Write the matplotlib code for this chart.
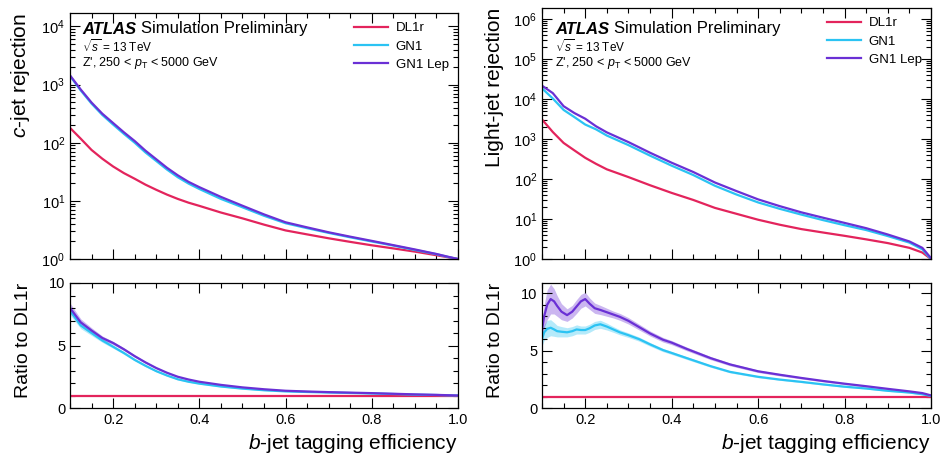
import matplotlib
matplotlib.use("Agg")
import matplotlib.pyplot as plt
from matplotlib.ticker import MultipleLocator, LogLocator, NullFormatter
import numpy as np

plt.rcParams["font.family"] = ["Liberation Sans", "DejaVu Sans"]
plt.rcParams["mathtext.fontset"] = "custom"
plt.rcParams["mathtext.rm"] = "Liberation Sans"
plt.rcParams["mathtext.it"] = "Liberation Sans:italic"
plt.rcParams["mathtext.bf"] = "Liberation Sans:bold"

# ---- data ----
eff = [0.1, 0.125, 0.15, 0.175, 0.2, 0.225, 0.25, 0.275, 0.3, 0.325, 0.35, 0.375,
       0.4, 0.45, 0.5, 0.55, 0.6, 0.65, 0.7, 0.75, 0.8, 0.85, 0.9, 0.95, 0.98, 1.0]

# c-jet rejection (left)
c_dl1r = [180, 117, 75, 53, 39, 30, 24, 19, 15.5, 12.8, 10.8, 9.3,
          8.2, 6.3, 5.0, 3.9, 3.1, 2.65, 2.27, 1.97, 1.72, 1.52, 1.34, 1.16, 1.06, 1.0]
c_gn1 = [1404, 790, 470, 300, 205, 142, 100, 68, 48.5, 34.5, 25.5, 19.8,
         16.0, 10.8, 7.75, 5.54, 4.12, 3.39, 2.81, 2.36, 2.0, 1.70, 1.43, 1.21, 1.07, 1.0]
c_gn1lep = [1440, 820, 490, 315, 218, 151, 107, 73, 52, 37, 27.5, 21.2,
            17.2, 11.7, 8.25, 5.85, 4.28, 3.5, 2.88, 2.42, 2.05, 1.73, 1.46, 1.22, 1.08, 1.0]

# c-jet ratio to DL1r (left)
c_ratio_gn1 = [7.8, 6.6, 6.0, 5.4, 4.9, 4.4, 3.85, 3.38, 2.95, 2.6, 2.3, 2.1,
               1.95, 1.72, 1.55, 1.42, 1.33, 1.28, 1.24, 1.2, 1.16, 1.12, 1.07, 1.04, 1.01, 1.0]
c_ratio_gn1lep = [8.0, 6.85, 6.2, 5.6, 5.2, 4.7, 4.15, 3.65, 3.2, 2.82, 2.5, 2.28,
                  2.1, 1.85, 1.65, 1.5, 1.38, 1.32, 1.27, 1.23, 1.19, 1.14, 1.09, 1.05, 1.02, 1.0]
c_err_gn1 = [0.35, 0.25, 0.2, 0.15, 0.12, 0.1, 0.08, 0.07, 0.06, 0.05, 0.05, 0.04,
             0.04, 0.04, 0.03, 0.03, 0.03, 0.03, 0.02, 0.02, 0.02, 0.02, 0.02, 0.02, 0.02, 0.02]
c_err_gn1lep = [0.4, 0.28, 0.22, 0.16, 0.13, 0.11, 0.09, 0.08, 0.07, 0.06, 0.05, 0.05,
                0.04, 0.04, 0.03, 0.03, 0.03, 0.03, 0.02, 0.02, 0.02, 0.02, 0.02, 0.02, 0.02, 0.02]

# light-jet rejection (right)
eff_l = [0.1, 0.125, 0.15, 0.175, 0.2, 0.225, 0.25, 0.3, 0.35, 0.4, 0.45, 0.5,
         0.55, 0.6, 0.65, 0.7, 0.75, 0.8, 0.85, 0.9, 0.95, 0.98, 1.0]
l_dl1r = [3100, 1500, 800, 520, 340, 240, 175, 112, 70, 45, 30, 19,
          13.5, 9.6, 7.2, 5.6, 4.6, 3.8, 3.1, 2.5, 1.9, 1.45, 1.0]
l_gn1 = [18600, 10350, 5360, 3540, 2310, 1750, 1225, 706, 385, 216, 126, 68,
         41, 26, 18, 12.9, 9.4, 7.0, 5.3, 3.75, 2.57, 1.74, 1.0]
l_gn1lep = [21700, 14100, 6640, 4470, 3230, 2090, 1470, 840, 455, 256, 150, 82,
            50, 31, 21, 14.7, 10.8, 8.0, 5.9, 4.1, 2.75, 1.9, 1.05]

# light-jet ratio to DL1r (right)
eff_r = [0.1, 0.105, 0.112, 0.12, 0.128, 0.135, 0.145, 0.158, 0.17, 0.18, 0.19,
         0.2, 0.21, 0.222, 0.235, 0.25, 0.265, 0.28, 0.3, 0.325, 0.35, 0.38,
         0.4, 0.435, 0.49, 0.535, 0.6, 0.65, 0.7, 0.75, 0.8, 0.85, 0.9, 0.95,
         0.98, 1.0]
l_ratio_gn1lep = [6.8, 8.0, 9.0, 9.5, 9.3, 8.9, 8.4, 8.1, 8.4, 8.85, 9.3,
                  9.5, 9.1, 8.7, 8.55, 8.35, 8.15, 7.95, 7.6, 7.05, 6.5, 5.95,
                  5.7, 5.15, 4.35, 3.8, 3.2, 2.9, 2.62, 2.36, 2.12, 1.9, 1.67, 1.45,
                  1.3, 1.1]
l_err_gn1lep = [0.7, 1.0, 1.3, 1.3, 1.1, 0.9, 0.7, 0.55, 0.55, 0.6, 0.6,
                0.6, 0.5, 0.45, 0.4, 0.35, 0.3, 0.3, 0.28, 0.25, 0.22, 0.2,
                0.18, 0.16, 0.14, 0.12, 0.11, 0.1, 0.09, 0.08, 0.08, 0.07, 0.07, 0.06,
                0.06, 0.06]
l_ratio_gn1 = [6.0, 6.6, 6.9, 7.0, 6.85, 6.7, 6.65, 6.6, 6.7, 6.85, 6.8,
               6.8, 6.95, 7.2, 7.3, 7.1, 6.85, 6.6, 6.35, 6.0, 5.55, 5.05,
               4.8, 4.35, 3.65, 3.15, 2.72, 2.48, 2.28, 2.06, 1.86, 1.7, 1.5, 1.35,
               1.2, 1.05]
l_err_gn1 = [0.6, 0.7, 0.75, 0.7, 0.6, 0.5, 0.45, 0.4, 0.4, 0.4, 0.35,
             0.35, 0.35, 0.35, 0.35, 0.3, 0.25, 0.22, 0.2, 0.18, 0.16, 0.14,
             0.13, 0.12, 0.1, 0.09, 0.08, 0.07, 0.07, 0.06, 0.06, 0.05, 0.05, 0.05,
             0.05, 0.05]

labels = ["DL1r", "GN1", "GN1 Lep"]
colors = ["#e3245c", "#2bc3f3", "#6a30d5"]

W, H = 940, 455
fig = plt.figure(figsize=(W / 100, H / 100), dpi=100)


def box(x0, y0, x1, y1):
    # pixel box -> figure fraction
    return [x0 / W, 1 - y1 / H, (x1 - x0) / W, (y1 - y0) / H]


ax_ct = fig.add_axes(box(70, 13, 458, 259))
ax_cr = fig.add_axes(box(70, 283, 458, 408))
ax_lt = fig.add_axes(box(542, 8, 931, 259))
ax_lr = fig.add_axes(box(542, 283, 931, 408))


def style(ax):
    ax.set_xlim(0.1, 1.0)
    ax.xaxis.set_major_locator(MultipleLocator(0.2))
    ax.xaxis.set_minor_locator(MultipleLocator(0.05))
    ax.tick_params(which="both", direction="in", top=True, right=True,
                   labelsize=10.5, width=0.8)
    ax.tick_params(which="major", length=7)
    ax.tick_params(which="minor", length=3.5)
    for s in ax.spines.values():
        s.set_linewidth(0.9)


def top_panel(ax, e, rej, ylim, ylabel):
    for r, lab, c in zip(rej, labels, colors):
        ax.plot(e, r, color=c, lw=1.6, label=lab)
    ax.set_yscale("log")
    ax.set_ylim(*ylim)
    style(ax)
    ax.yaxis.set_major_locator(LogLocator(base=10, numticks=20))
    ax.yaxis.set_minor_locator(LogLocator(base=10, subs=np.arange(2, 10), numticks=100))
    ax.yaxis.set_minor_formatter(NullFormatter())
    ax.tick_params(labelbottom=False)
    ax.set_ylabel(ylabel, fontsize=15, loc="top")
    ax.yaxis.set_label_coords(-0.097, 1.0)
    ax.legend(loc="upper right", frameon=False, fontsize=9.5, handlelength=2.6,
              handletextpad=0.6, labelspacing=0.45, borderaxespad=0.3)


def ratio_panel(ax, e2, vals, errs, ylim):
    ax.axhline(1.0, color=colors[0], lw=1.6)
    ax.axhspan(0.97, 1.03, color=colors[0], alpha=0.25, lw=0)
    for v, er, c in zip(vals, errs, colors[1:]):
        v = np.array(v)
        er = np.array(er)
        ax.fill_between(e2, v - er, v + er, color=c, alpha=0.35, lw=0)
        ax.plot(e2, v, color=c, lw=1.6)
    ax.set_ylim(*ylim)
    style(ax)
    ax.yaxis.set_major_locator(MultipleLocator(5))
    ax.yaxis.set_minor_locator(MultipleLocator(1))
    ax.set_ylabel("Ratio to DL1r", fontsize=14, loc="top")
    ax.yaxis.set_label_coords(-0.097, 1.0)
    ax.set_xlabel(r"$b$-jet tagging efficiency", fontsize=15, loc="right")


top_panel(ax_ct, eff, [c_dl1r, c_gn1, c_gn1lep], (1, 1.7e4), r"$c$-jet rejection")
top_panel(ax_lt, eff_l, [l_dl1r, l_gn1, l_gn1lep], (1, 1.9e6), "Light-jet rejection")
ratio_panel(ax_cr, eff, [c_ratio_gn1, c_ratio_gn1lep],
            [c_err_gn1, c_err_gn1lep], (0, 10))
ratio_panel(ax_lr, eff_r, [l_ratio_gn1, l_ratio_gn1lep],
            [l_err_gn1, l_err_gn1lep], (0, 10.9))

# ATLAS labels
fig.canvas.draw()
renderer = fig.canvas.get_renderer()
for x0 in (82, 555):
    t = fig.text(x0 / W, 1 - 29 / H, "ATLAS", fontsize=12, fontweight="bold",
                 fontstyle="italic", va="center")
    bb = t.get_window_extent(renderer)
    fig.text((bb.x1 + 5) / W, 1 - 29 / H, "Simulation Preliminary",
             fontsize=12, va="center")
    fig.text(x0 / W, 1 - 47 / H, r"$\sqrt{s}$ = 13 TeV", fontsize=8.5, va="center")
    fig.text(x0 / W, 1 - 63 / H, r"Z', 250 < $p_{\mathrm{T}}$ < 5000 GeV",
             fontsize=9, va="center")

fig.savefig("out.png", dpi=100)
